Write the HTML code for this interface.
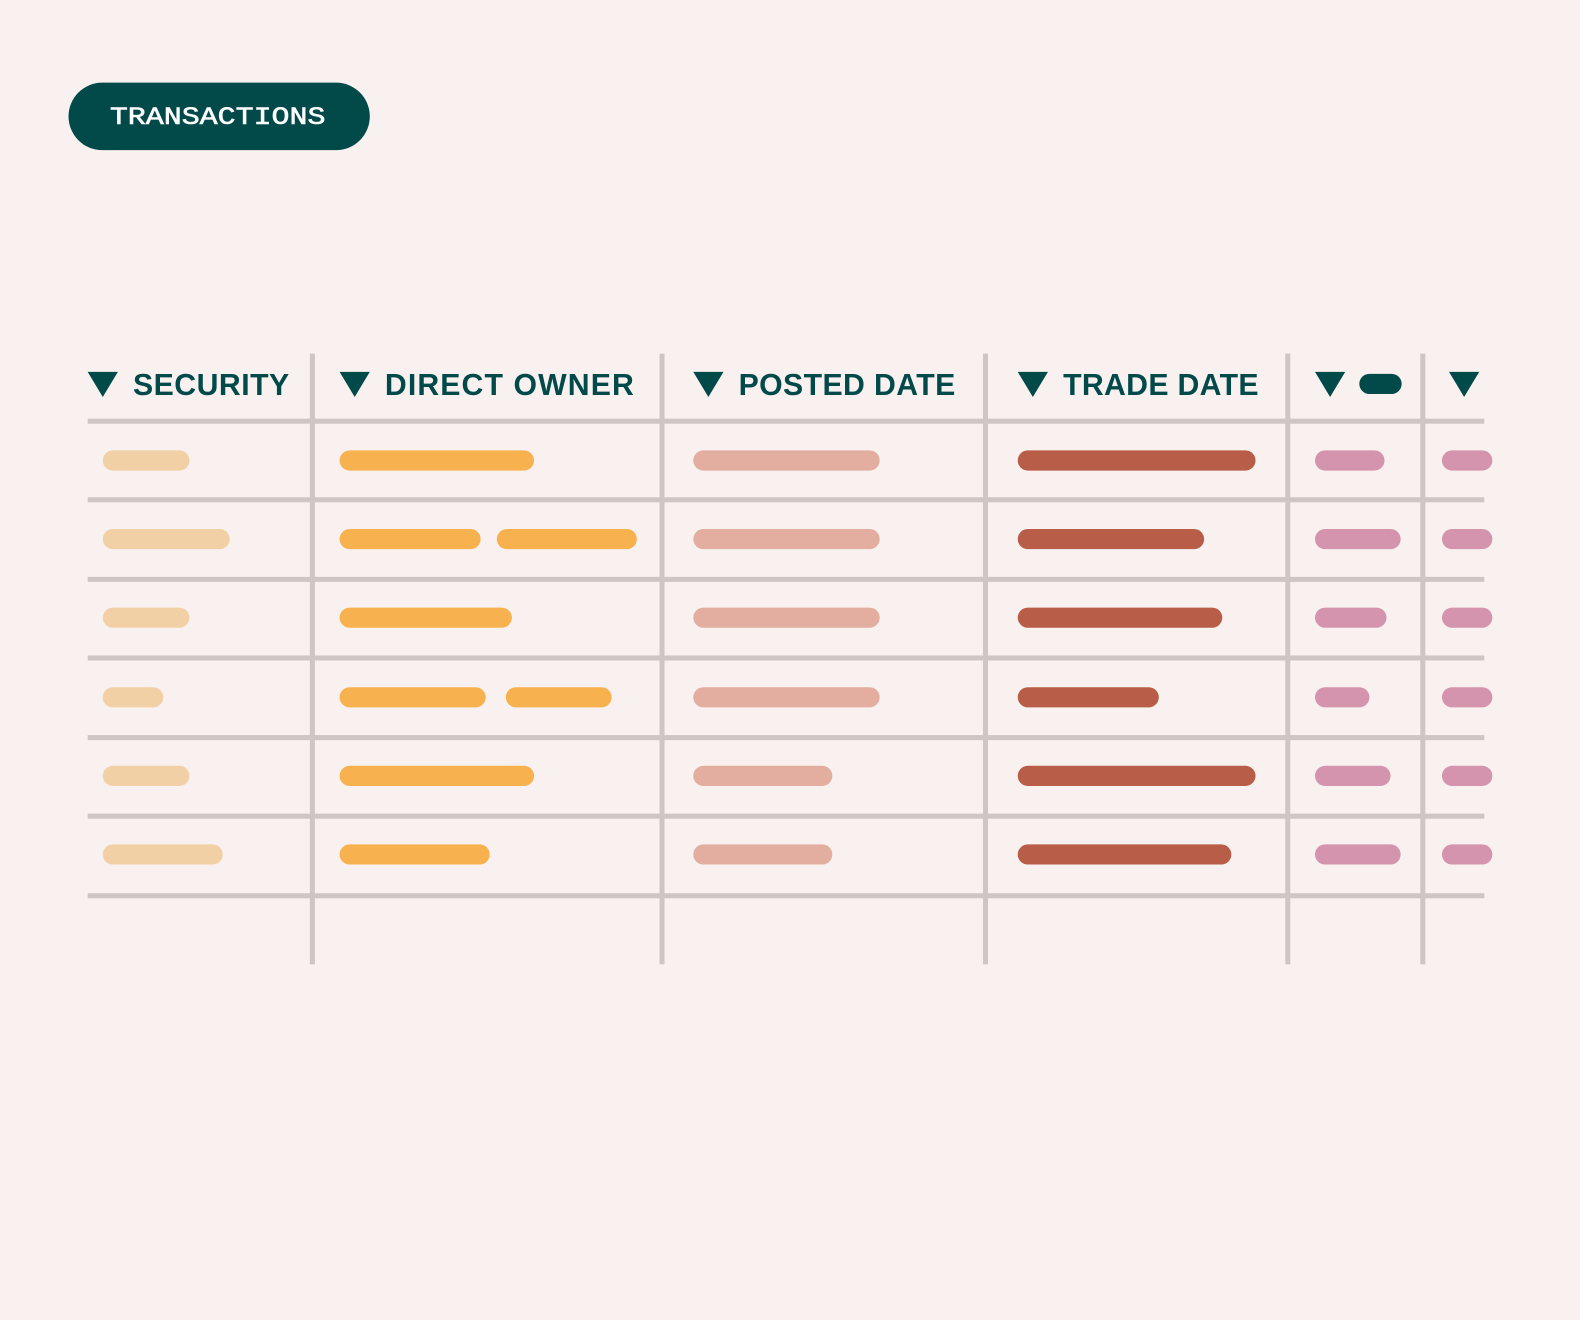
<!DOCTYPE html>
<html><head><meta charset="utf-8"><style>
html,body{margin:0;padding:0;background:#f9f1ef;}
svg{display:block;}
</style></head><body>
<svg width="1580" height="1320" viewBox="0 0 1568 1310" preserveAspectRatio="none" xmlns="http://www.w3.org/2000/svg">
<rect width="1568" height="1310" fill="#f9f1ef"/>
<rect x="68" y="82" width="299" height="67" rx="33.5" fill="#02494a"/>
<text x="109" y="123" font-family="Liberation Mono, monospace" font-size="25" fill="#ffffff" stroke="#ffffff" stroke-width="0.6" textLength="214" lengthAdjust="spacingAndGlyphs">TRANSACTIONS</text>
<g fill="#cdc6c4">
<rect x="87" y="415.5" width="1386" height="5"/>
<rect x="87" y="493.5" width="1386" height="5"/>
<rect x="87" y="572.5" width="1386" height="5"/>
<rect x="87" y="650.5" width="1386" height="5"/>
<rect x="87" y="729.5" width="1386" height="5"/>
<rect x="87" y="807.5" width="1386" height="5"/>
<rect x="87" y="886.5" width="1386" height="5"/>
<rect x="307.5" y="351" width="5" height="606"/>
<rect x="654.5" y="351" width="5" height="606"/>
<rect x="975.5" y="351" width="5" height="606"/>
<rect x="1275.5" y="351" width="5" height="606"/>
<rect x="1409.5" y="351" width="5" height="606"/>
</g>
<g fill="#02494a">
<polygon points="87,369 117,369 102,394"/>
<polygon points="337,369 367,369 352,394"/>
<polygon points="688,369 718,369 703,394"/>
<polygon points="1010,369 1040,369 1025,394"/>
<polygon points="1305,369 1335,369 1320,394"/>
<polygon points="1438,369 1468,369 1453,394"/>
<rect x="1349" y="371" width="42" height="20" rx="10"/>
<g font-family="Liberation Sans, sans-serif" font-weight="bold" font-size="30" lengthAdjust="spacingAndGlyphs">
<text x="132" y="392" textLength="155">SECURITY</text>
<text x="382" y="392" textLength="247">DIRECT OWNER</text>
<text x="733" y="392" textLength="215">POSTED DATE</text>
<text x="1055" y="392" textLength="194">TRADE DATE</text>
</g>
</g>
<g stroke-linecap="round" stroke-width="20">
<g stroke="#f2d0a5">
<line x1="112" y1="457" x2="178" y2="457"/>
<line x1="112" y1="535" x2="218" y2="535"/>
<line x1="112" y1="613" x2="178" y2="613"/>
<line x1="112" y1="692" x2="152" y2="692"/>
<line x1="112" y1="770" x2="178" y2="770"/>
<line x1="112" y1="848" x2="211" y2="848"/>
</g>
<g stroke="#f7b24f">
<line x1="347" y1="457" x2="520" y2="457"/>
<line x1="347" y1="535" x2="467" y2="535"/>
<line x1="503" y1="535" x2="622" y2="535"/>
<line x1="347" y1="613" x2="498" y2="613"/>
<line x1="347" y1="692" x2="472" y2="692"/>
<line x1="512" y1="692" x2="597" y2="692"/>
<line x1="347" y1="770" x2="520" y2="770"/>
<line x1="347" y1="848" x2="476" y2="848"/>
</g>
<g stroke="#e3ae9f">
<line x1="698" y1="457" x2="863" y2="457"/>
<line x1="698" y1="535" x2="863" y2="535"/>
<line x1="698" y1="613" x2="863" y2="613"/>
<line x1="698" y1="692" x2="863" y2="692"/>
<line x1="698" y1="770" x2="816" y2="770"/>
<line x1="698" y1="848" x2="816" y2="848"/>
</g>
<g stroke="#b85d47">
<line x1="1020" y1="457" x2="1236" y2="457"/>
<line x1="1020" y1="535" x2="1185" y2="535"/>
<line x1="1020" y1="613" x2="1203" y2="613"/>
<line x1="1020" y1="692" x2="1140" y2="692"/>
<line x1="1020" y1="770" x2="1236" y2="770"/>
<line x1="1020" y1="848" x2="1212" y2="848"/>
</g>
<g stroke="#d494ae">
<line x1="1315" y1="457" x2="1364" y2="457"/>
<line x1="1315" y1="535" x2="1380" y2="535"/>
<line x1="1315" y1="613" x2="1366" y2="613"/>
<line x1="1315" y1="692" x2="1349" y2="692"/>
<line x1="1315" y1="770" x2="1370" y2="770"/>
<line x1="1315" y1="848" x2="1380" y2="848"/>
<line x1="1441" y1="457" x2="1471" y2="457"/>
<line x1="1441" y1="535" x2="1471" y2="535"/>
<line x1="1441" y1="613" x2="1471" y2="613"/>
<line x1="1441" y1="692" x2="1471" y2="692"/>
<line x1="1441" y1="770" x2="1471" y2="770"/>
<line x1="1441" y1="848" x2="1471" y2="848"/>
</g>
</g>
</svg>
</body></html>
